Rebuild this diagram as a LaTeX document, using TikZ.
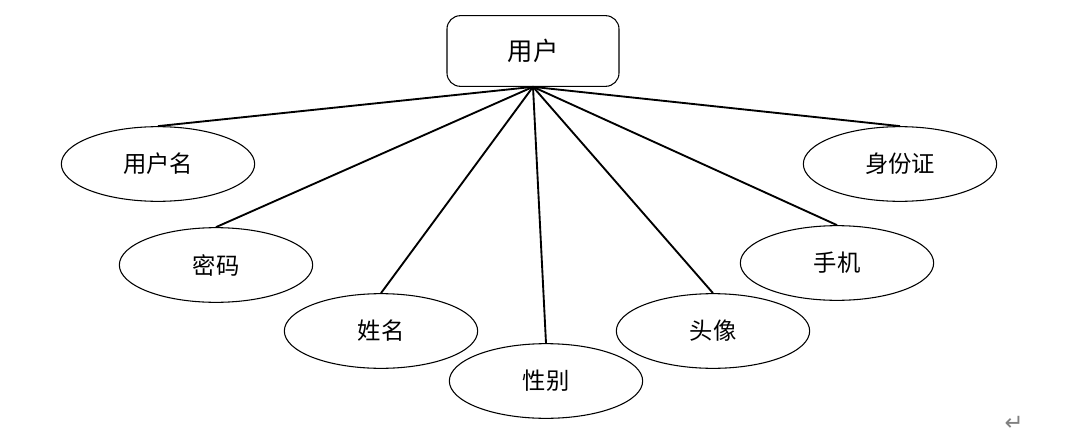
\documentclass[tikz,border=0pt]{standalone}
\usepackage{fontspec}
\newfontfamily\cjk{Noto Sans CJK SC}
\newfontfamily\symfont{DejaVu Sans}
\usetikzlibrary{shapes}

\begin{document}
\begin{tikzpicture}[
    x=0.75pt, y=-0.75pt,
    font=\cjk\fontsize{17.5}{20}\selectfont,
    entity/.style={rectangle, draw=black, thick, fill=white,
                   minimum width=129pt, minimum height=53pt,
                   rounded corners=10pt, inner sep=0pt,
                   font=\cjk\fontsize{19}{21}\selectfont},
    attr/.style={ellipse, draw=black, thick, fill=white,
                 minimum width=145pt, minimum height=56pt, inner sep=0pt},
    link/.style={line width=1.4pt, black}
]
\useasboundingbox (0,0) rectangle (1071,446);

% Entity
\node[entity] (user) at (533,51) {用户};

% Attributes
\node[attr] (uname) at (158,164) {用户名};
\node[attr] (pwd)   at (216,265) {密码};
\node[attr] (name)  at (381,331) {姓名};
\node[attr] (sex)   at (546,381) {性别};
\node[attr] (photo) at (713,331) {头像};
\node[attr] (phone) at (837,263) {手机};
\node[attr] (idno)  at (900,164) {身份证};

% Paragraph mark
\node[gray, font=\symfont\fontsize{17}{17}\selectfont] (para) at (1014,423) {↵};

% Entity-to-attribute links
\draw[link] (user.south) -- (uname.north);
\draw[link] (user.south) -- (pwd.north);
\draw[link] (user.south) -- (name.north);
\draw[link] (user.south) -- (sex.north);
\draw[link] (user.south) -- (photo.north);
\draw[link] (user.south) -- (phone.north);
\draw[link] (user.south) -- (idno.north);

\end{tikzpicture}
\end{document}
